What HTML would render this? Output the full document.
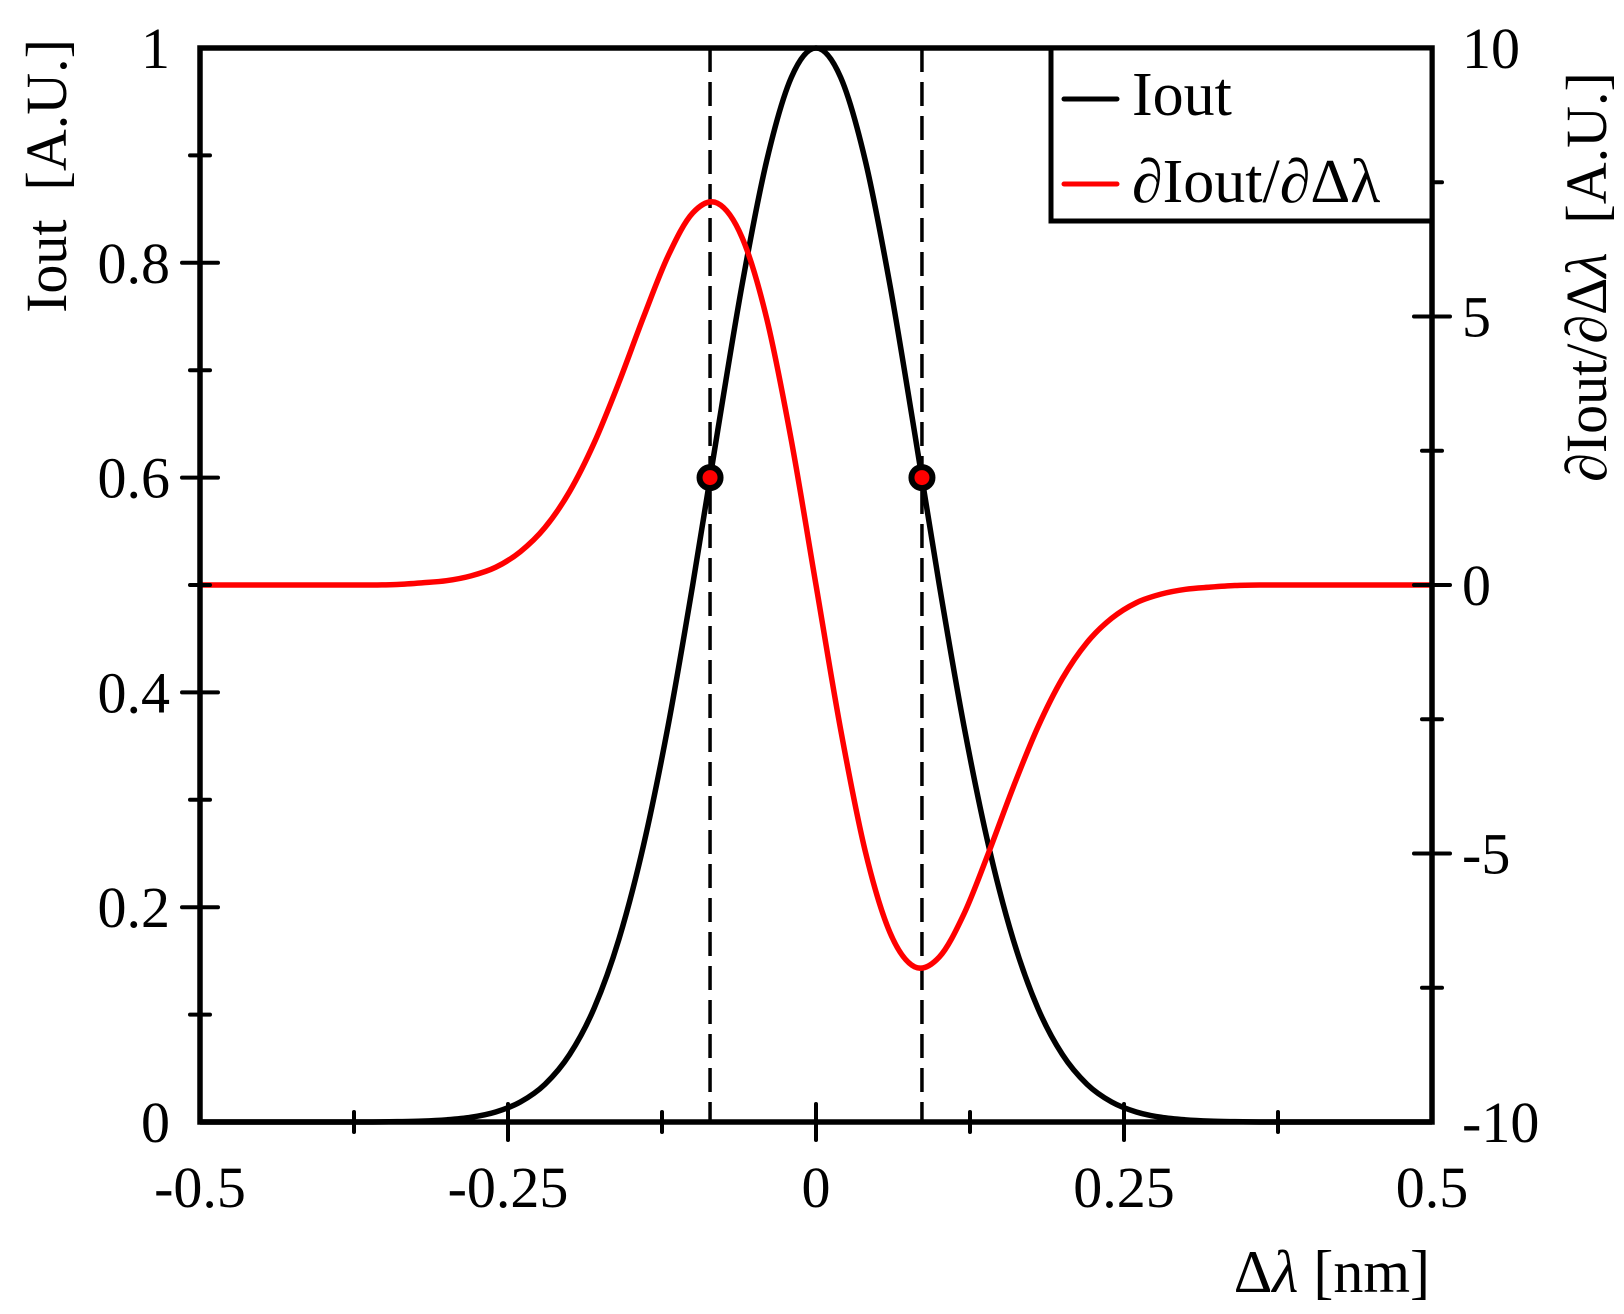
<!DOCTYPE html>
<html><head><meta charset="utf-8"><style>
html,body{margin:0;padding:0;background:#fff;}
svg{display:block;font-family:"Liberation Serif",serif;}
</style></head><body>
<svg id="chart" width="1624" height="1314" viewBox="0 0 1624 1314" xmlns="http://www.w3.org/2000/svg">
<g id="marks"></g>
<g id="axes"></g>
<g id="legend">
  <rect x="1051" y="48" width="381" height="173" fill="#fff" stroke="#000" stroke-width="5"/>
  <line x1="1064" y1="99" x2="1117" y2="99" stroke="#000" stroke-width="5" stroke-linecap="round"/>
  <text x="1132" y="115" font-size="62">Iout</text>
  <line x1="1064" y1="184" x2="1117" y2="184" stroke="#f00" stroke-width="5" stroke-linecap="round"/>
  <text x="1132" y="202" font-size="62">∂Iout/∂Δλ</text>
</g>
<text x="1430" y="1292" font-size="60" text-anchor="end">Δ<tspan font-style="italic">λ</tspan> [nm]</text>
<text transform="translate(66,176) rotate(-90)" font-size="58" text-anchor="middle" xml:space="preserve">Iout  [A.U.]</text>
<text transform="translate(1606,277) rotate(-90)" font-size="58" text-anchor="middle" xml:space="preserve">∂Iout/∂Δ<tspan font-style="italic">λ</tspan>  [A.U.]</text>
</svg>
<script>
const xs = [-0.5,-0.48,-0.46,-0.44,-0.42,-0.4,-0.38,-0.36,-0.34,-0.32,-0.3,-0.28,-0.26,-0.24,-0.22,-0.2,-0.18,-0.16,-0.14,-0.12,-0.1,-0.08,-0.06,-0.04,-0.02,0,0.02,0.04,0.06,0.08,0.1,0.12,0.14,0.16,0.18,0.2,0.22,0.24,0.26,0.28,0.3,0.32,0.34,0.36,0.38,0.4,0.42,0.44,0.46,0.48,0.5];
const iout = [0,0,0,0,0,0,0,0,0.0003,0.0008,0.002,0.0044,0.0093,0.0186,0.0351,0.0628,0.1062,0.1701,0.2577,0.3692,0.5006,0.6422,0.7795,0.8952,0.9727,1,0.9727,0.8952,0.7795,0.6422,0.5006,0.3692,0.2577,0.1701,0.1062,0.0628,0.0351,0.0186,0.0093,0.0044,0.002,0.0008,0.0003,0,0,0,0,0,0,0,0];
const deriv = [0,0,0,0,0,0,0,0,0.01,0.04,0.08,0.17,0.33,0.62,1.07,1.74,2.65,3.77,4.99,6.13,6.93,7.11,6.47,4.96,2.69,0,-2.69,-4.96,-6.47,-7.11,-6.93,-6.13,-4.99,-3.77,-2.65,-1.74,-1.07,-0.62,-0.33,-0.17,-0.08,-0.04,-0.01,0,0,0,0,0,0,0,0];
const markerX = [-0.086, 0.086];
const markerY = [0.6, 0.6];
const xTicks = [-0.5,-0.25,0,0.25,0.5];
const xTickLabels = ["-0.5","-0.25","0","0.25","0.5"];
const yTicks = [0,0.2,0.4,0.6,0.8,1];
const yTickLabels = ["0","0.2","0.4","0.6","0.8","1"];
const y2Ticks = [-10,-5,0,5,10];
const y2TickLabels = ["-10","-5","0","5","10"];

const L=200,R=1432,T=48,B=1122;
const sx=v=>L+(v+0.5)*(R-L);
const sy=v=>B-v*(B-T);
const sy2=v=>B-(v+10)/20*(B-T);
const NS="http://www.w3.org/2000/svg";
const marks=document.getElementById('marks'), axes=document.getElementById('axes');
function mk(tag,attrs,parent){const e=document.createElementNS(NS,tag);for(const k in attrs)e.setAttribute(k,attrs[k]);parent.appendChild(e);return e;}
function smooth(pts){let d=`M${pts[0][0]},${pts[0][1]}`;for(let i=0;i<pts.length-1;i++){const p0=pts[Math.max(0,i-1)],p1=pts[i],p2=pts[i+1],p3=pts[Math.min(pts.length-1,i+2)];d+=`C${p1[0]+(p2[0]-p0[0])/6},${p1[1]+(p2[1]-p0[1])/6} ${p2[0]-(p3[0]-p1[0])/6},${p2[1]-(p3[1]-p1[1])/6} ${p2[0]},${p2[1]}`;}return d;}

markerX.forEach((mx,i)=>{
  const l=mk('line',{x1:sx(mx),x2:sx(mx),y1:T,y2:B,stroke:'#000','stroke-width':3.5,'stroke-dasharray':'24,10'},marks);
  
  
});
const p1=mk('path',{d:smooth(xs.map((x,i)=>[sx(x),sy(iout[i])])),fill:'none',stroke:'#000','stroke-width':5.5},marks);


const p2=mk('path',{d:smooth(xs.map((x,i)=>[sx(x),sy2(deriv[i])])),fill:'none',stroke:'#f00','stroke-width':5.5},marks);


markerX.forEach((mx,i)=>{
  const c=mk('circle',{cx:sx(mx),cy:sy(markerY[i]),r:10.5,fill:'#f00',stroke:'#000','stroke-width':6},marks);
  
  
});

const fr=mk('rect',{x:L,y:T,width:R-L,height:B-T,fill:'none',stroke:'#000','stroke-width':5.5},axes);


function tick(x1,y1,x2,y2,name){const t=mk('line',{x1,y1,x2,y2,stroke:'#000','stroke-width':4,'stroke-linecap':'round'},axes);}
function label(x,y,txt,anchor,name){const t=mk('text',{x,y,'font-size':58,'text-anchor':anchor},axes);t.textContent=txt;}
for(let k=1;k<8;k++){const v=-0.5+k*0.125;const h=k%2==0?18:10;tick(sx(v),B-h,sx(v),B+h,'x-tick');}
xTicks.forEach((v,i)=>label(sx(v),1207,xTickLabels[i],'middle','x-tick-label'));
for(let k=1;k<10;k++){const v=k*0.1;const h=k%2==0?18:10;tick(L-h,sy(v),L+h,sy(v),'y-tick');}
yTicks.forEach((v,i)=>label(170,sy(v)+20,yTickLabels[i],'end','y-tick-label'));
for(let k=1;k<8;k++){const v=-10+k*2.5;const h=k%2==0?18:10;tick(R-h,sy2(v),R+h,sy2(v),'y2-tick');}
y2Ticks.forEach((v,i)=>label(1462,sy2(v)+20,y2TickLabels[i],'start','y2-tick-label'));
</script>
</body></html>
